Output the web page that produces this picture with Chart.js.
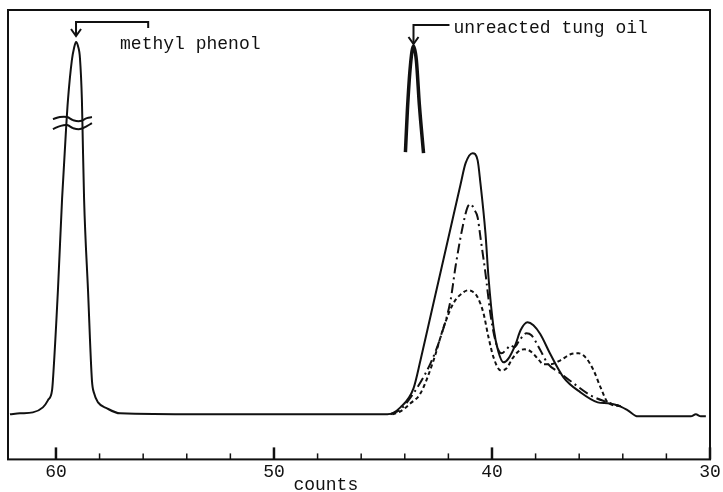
<!DOCTYPE html>
<html>
<head>
<meta charset="utf-8">
<script src="https://cdn.jsdelivr.net/npm/chart.js@4/dist/chart.umd.min.js"></script>
<style>
  body { margin: 0; background: #fff; }
  #wrap { width: 723px; height: 492px; }
</style>
</head>
<body>
<div id="wrap"><canvas id="c"></canvas></div>
<script>
// retention (counts) and detector response
const solidX = [62.11, 61.65, 61.06, 60.60, 60.37, 60.18, 60.14, 59.91, 59.72, 59.54, 59.45, 59.27, 59.17, 59.08, 58.99, 58.90, 58.81, 58.78, 58.71, 58.53, 58.35, 58.25, 58.07, 57.66, 57.06, 53.39, 44.80, 44.20, 43.60, 43.28, 42.82, 42.36, 41.90, 41.44, 41.21, 40.89, 40.66, 40.53, 40.30, 40.16, 39.93, 39.70, 39.47, 39.24, 38.92, 38.69, 38.37, 38.10, 37.78, 37.32, 36.72, 35.94, 35.15, 34.69, 34.23, 33.77, 33.31, 30.88, 30.65, 30.42, 30.19];
const solidY = [0, 1, 2, 7, 14, 24, 34, 124, 215, 284, 314, 354, 366, 372, 368, 356, 314, 284, 215, 124, 34, 21, 12, 6, 1, 0, 0, 7, 26, 54, 98, 142, 186, 230, 251, 261, 254, 231, 181, 137, 87, 62, 52, 56, 70, 84, 92, 89, 80, 60, 37, 22, 12, 11, 9, 4, -2, -2, 0, -2, -2];

const dashX = [44.66, 44.20, 43.60, 42.82, 42.36, 41.90, 41.67, 41.35, 41.12, 40.98, 40.80, 40.66, 40.53, 40.30, 40.07, 39.88, 39.70, 39.56, 39.33, 39.15, 38.97, 38.74, 38.42, 38.19, 37.78, 37.45, 36.86, 36.26, 35.48, 34.69, 34.09];
const dashY = [0, 5, 21, 51, 77, 114, 148, 187, 207, 210, 204, 197, 177, 141, 100, 77, 64, 61, 65, 69, 67, 74, 81, 79, 64, 51, 41, 31, 19, 12, 8];

const dotX = [44.57, 44.20, 43.74, 43.28, 42.68, 42.22, 41.77, 41.31, 41.08, 40.85, 40.66, 40.39, 40.16, 39.93, 39.61, 39.33, 39.06, 38.78, 38.51, 38.23, 37.91, 37.63, 37.32, 36.86, 36.40, 36.03, 35.71, 35.34, 35.02, 34.69, 34.09];
const dotY = [0, 3, 11, 21, 54, 87, 111, 122, 124, 122, 117, 101, 77, 57, 44, 46, 56, 63, 65, 63, 56, 50, 50, 54, 60, 61, 57, 44, 27, 12, 8];

// unreacted tung oil reference peak
const tungX = [43.97, 43.88, 43.74, 43.60, 43.47, 43.33, 43.14];
const tungY = [262, 304, 349, 368, 354, 309, 261];

// axis break on the methyl phenol peak
const breakX = [60.14, 59.82, 59.49, 59.22, 58.90, 58.58, 58.35];
const breakUpper = [295, 297, 297, 294, 293, 296, 297];
const breakLower = [285, 288, 289, 286, 285, 288, 291];

const tickValues = [60, 58, 56, 54, 52, 50, 48, 46, 44, 42, 40, 38, 36, 34, 32, 30];
const tickLabels = ['60', '', '', '', '', '50', '', '', '', '', '40', '', '', '', '', '30'];

const ink = '#111';
const monoFont = '18px "Liberation Mono", "DejaVu Sans Mono", monospace';

function pts(xs, ys) { return xs.map((x, i) => ({x: x, y: ys[i]})); }

function line(xs, ys, extra) {
    return Object.assign({
        data: pts(xs, ys),
        borderColor: ink,
        borderWidth: 2,
        pointRadius: 0,
        fill: false,
        cubicInterpolationMode: 'monotone'
    }, extra || {});
}

function arrowDown(ctx, px, tipY) {
    ctx.beginPath();
    ctx.moveTo(px - 5, tipY - 7);
    ctx.lineTo(px, tipY);
    ctx.lineTo(px + 5, tipY - 7);
    ctx.stroke();
}

const decor = {
    id: 'decor',
    afterDraw(chart) {
        const {ctx, chartArea: a, scales: {x, y}} = chart;
        ctx.save();
        ctx.strokeStyle = ink;
        ctx.fillStyle = ink;
        ctx.lineWidth = 2;
        ctx.strokeRect(a.left, a.top, a.right - a.left, a.bottom - a.top);

        // ticks point into the plot
        tickValues.forEach((v, i) => {
            const px = x.getPixelForValue(v);
            const major = tickLabels[i] !== '';
            ctx.lineWidth = major ? 2.5 : 1.5;
            ctx.beginPath();
            ctx.moveTo(px, a.bottom);
            ctx.lineTo(px, a.bottom - (major ? 12 : 6));
            ctx.stroke();
        });

        ctx.lineWidth = 2;
        ctx.font = monoFont;
        ctx.textBaseline = 'alphabetic';
        ctx.textAlign = 'left';

        // methyl phenol bracket
        let px = x.getPixelForValue(59.08), top = y.getPixelForValue(392);
        let end = x.getPixelForValue(55.77);
        ctx.beginPath();
        ctx.moveTo(px, y.getPixelForValue(378));
        ctx.lineTo(px, top);
        ctx.lineTo(end, top);
        ctx.lineTo(end, y.getPixelForValue(386));
        ctx.stroke();
        arrowDown(ctx, px, y.getPixelForValue(378));
        ctx.fillText('methyl phenol', x.getPixelForValue(57.06), y.getPixelForValue(365));

        // unreacted tung oil pointer
        px = x.getPixelForValue(43.60);
        top = y.getPixelForValue(389);
        ctx.beginPath();
        ctx.moveTo(px, y.getPixelForValue(370));
        ctx.lineTo(px, top);
        ctx.lineTo(x.getPixelForValue(41.95), top);
        ctx.stroke();
        arrowDown(ctx, px, y.getPixelForValue(370));
        ctx.fillText('unreacted tung oil', x.getPixelForValue(41.77), y.getPixelForValue(381));

        // axis title
        ctx.fillText('counts', x.getPixelForValue(49.11), y.getPixelForValue(-76));
        ctx.restore();
    }
};

new Chart(document.getElementById('c'), {
    type: 'line',
    data: {
        datasets: [
            line(solidX, solidY),
            line(dashX, dashY, {borderDash: [10, 4, 2, 4]}),
            line(dotX, dotY, {borderDash: [4, 3]}),
            line(tungX, tungY, {borderWidth: 3.5}),
            line(breakX, breakUpper, {cubicInterpolationMode: 'default', tension: 0.4}),
            line(breakX, breakLower, {cubicInterpolationMode: 'default', tension: 0.4})
        ]
    },
    options: {
        animation: false,
        responsive: true,
        maintainAspectRatio: false,
        layout: {padding: {left: 8, right: 13, top: 10, bottom: 7}},
        plugins: {legend: {display: false}, tooltip: {enabled: false}},
        scales: {
            x: {
                type: 'linear',
                reverse: true,
                min: 30,
                max: 62.2,
                grid: {display: false, drawTicks: false},
                border: {display: false},
                afterBuildTicks: s => { s.ticks = tickValues.map(v => ({value: v})); },
                ticks: {
                    autoSkip: false,
                    maxRotation: 0,
                    padding: 2,
                    color: ink,
                    font: {family: '"Liberation Mono", "DejaVu Sans Mono", monospace', size: 18},
                    callback: (v, i) => tickLabels[i]
                }
            },
            y: {display: false, min: -45, max: 404}
        }
    },
    plugins: [decor]
});
</script>
</body>
</html>
